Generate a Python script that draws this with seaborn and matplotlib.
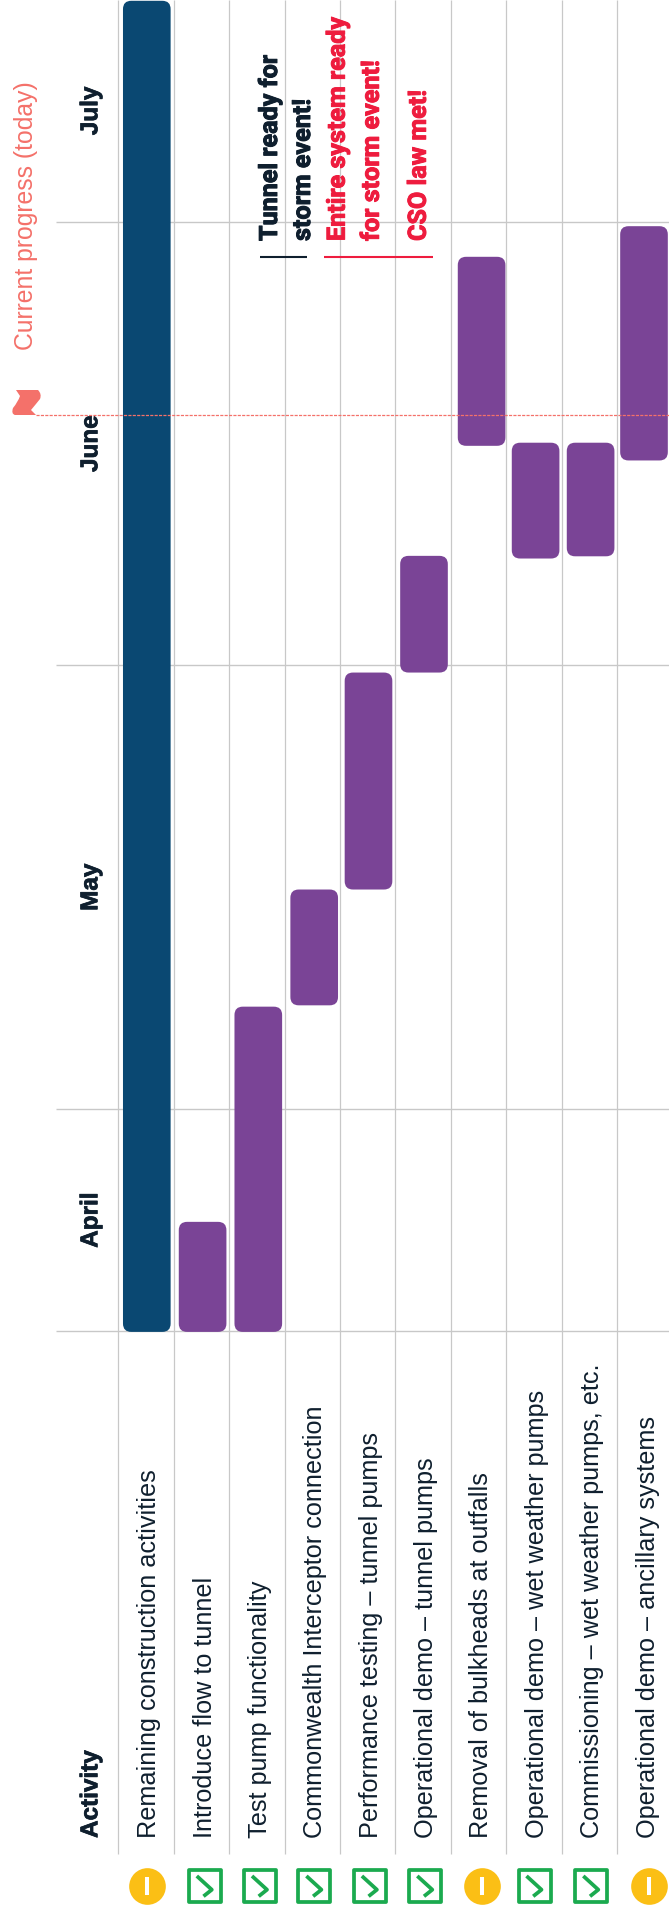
"""
Tunnel start-up schedule, drawn as a Gantt chart turned on its side.
Time runs up the page, one column per activity.
"""

import matplotlib
matplotlib.use("Agg")
import matplotlib.patheffects as pe
import matplotlib.pyplot as plt
from matplotlib.patches import FancyBboxPatch, PathPatch
from matplotlib.path import Path
from matplotlib.transforms import Affine2D
import pandas as pd
import seaborn as sns

ACTIVITIES = [
    "Remaining construction activities",
    "Introduce flow to tunnel",
    "Test pump functionality",
    "Commonwealth Interceptor connection",
    "Performance testing – tunnel pumps",
    "Operational demo – tunnel pumps",
    "Removal of bulkheads at outfalls",
    "Operational demo – wet weather pumps",
    "Commissioning – wet weather pumps, etc.",
    "Operational demo – ancillary systems",
]
# dates are in months, 4.5 = mid April
STARTS = [4.498, 4.498, 4.498, 5.234, 5.495, 5.984, 6.495, 6.241, 6.246, 6.462]
ENDS = [7.498, 4.746, 5.231, 5.495, 5.984, 6.247, 6.921, 6.502, 6.502, 6.990]
PHASES = ["construction"] + ["testing"] * 9
STATUS = ["caution", "ok", "ok", "ok", "ok", "ok", "caution", "ok", "ok", "caution"]

MONTHS = ["April", "May", "June", "July"]
MONTH_CENTERS = [4.75, 5.5, 6.5, 7.25]
MONTH_LINES = [4.5, 5.0, 6.0, 7.0]
TODAY = 6.564

NAVY = "#0A4872"
PURPLE = "#7A4496"
CORAL = "#F4716A"
RED = "#EE1C3E"
INK = "#0F1F2E"
GRID = "#C8C8C8"
YELLOW = "#FBBF15"
GREEN = "#1BAA4F"
PHASE_COLORS = {"construction": NAVY, "testing": PURPLE}

W, H = 669, 1912
ROW_W = 55.4      # px per activity column
ROW0 = 146.0      # px centre of first column
MONTH_H = 443.7   # px per month
Y_APR15 = 1331.0  # px of month value 4.5
BAR_NUDGE = [0.8, 1.2, 1.5, 2.0, 0.9, 1.0, 3.2, 1.8, 1.4, -0.6]  # columns are not quite even

sns.set_theme(style="white")
plt.rcParams["font.family"] = ["Liberation Sans", "DejaVu Sans"]

fig = plt.figure(figsize=(W / 100, H / 100), dpi=100)
ax = fig.add_axes([0, 0, 1, 1])

df = pd.DataFrame({"activity": ACTIVITIES, "start": STARTS, "end": ENDS})
df["length"] = df["end"] - df["start"]
sns.barplot(data=df, x="activity", y="length", bottom=df["start"].values, color=PURPLE,
            saturation=1, width=0.86, errorbar=None, ax=ax, zorder=3)

ax.set_xlim(-ROW0 / ROW_W, (W - ROW0) / ROW_W)
ax.set_ylim(4.5 - (H - Y_APR15) / MONTH_H, 4.5 + Y_APR15 / MONTH_H)
ax.axis("off")

# swap the square bars for rounded ones
for bar, phase, nudge in zip(list(ax.patches), PHASES, BAR_NUDGE):
    rounded = FancyBboxPatch(
        (bar.get_x() + nudge / ROW_W, bar.get_y()), bar.get_width(), bar.get_height(),
        boxstyle="round,pad=0,rounding_size=0.15",
        mutation_aspect=ROW_W / MONTH_H,
        facecolor=PHASE_COLORS[phase], edgecolor="none", zorder=3,
    )
    bar.remove()
    ax.add_patch(rounded)

# px layer for the page furniture, y counted from the top
px = Affine2D().scale(1, -1).translate(0, H)


def to_month(y_px):
    return 4.5 + (Y_APR15 - y_px) / MONTH_H


def to_row(x_px):
    return (x_px - ROW0) / ROW_W


def heavier(color, width=0.5):
    # the available bold faces are lighter than the original one
    return [pe.withStroke(linewidth=width, foreground=color)]


# grid
bounds = [i - 0.5 for i in range(len(ACTIVITIES))]
ax.vlines(bounds, to_month(1854), to_month(0), color=GRID, lw=0.9, zorder=1)
ax.hlines(MONTH_LINES, to_row(55.5), to_row(W), color=GRID, lw=1.0, zorder=1)

# today
ax.hlines(TODAY, to_row(36), to_row(W), color=CORAL, lw=0.9, ls=(0, (2.5, 1)), zorder=4)
flag = Path(
    [(16, 390), (38, 390), (42, 394), (40, 399), (36, 404), (31, 410), (36, 415),
     (15, 415), (11, 414), (13, 408), (18, 402), (20, 396), (16, 390)],
    [Path.MOVETO, Path.LINETO, Path.CURVE3, Path.CURVE3, Path.CURVE3, Path.CURVE3,
     Path.LINETO, Path.LINETO, Path.CURVE3, Path.CURVE3, Path.CURVE3, Path.CURVE3,
     Path.CLOSEPOLY],
)
ax.add_patch(PathPatch(flag, facecolor=CORAL, edgecolor="none", transform=px, zorder=4))
ax.text(32.8, 350, "Current progress (today)", transform=px, rotation=90, ha="left",
        va="baseline", fontsize=17.8, color=CORAL, rotation_mode="anchor")

# column labels, anchored on their baselines
for i, name in enumerate(ACTIVITIES):
    ax.text(to_row(156.1 + ROW_W * i), to_month(1838), name, rotation=90, rotation_mode="anchor",
            ha="left", va="baseline", fontsize=18.2, color=INK, zorder=5)
ax.text(to_row(97.3), to_month(1838), "Activity", rotation=90, rotation_mode="anchor",
        ha="left", va="baseline", fontsize=17.5, fontweight="bold", color=INK,
        path_effects=heavier(INK))
for name, pos in zip(MONTHS, MONTH_CENTERS):
    ax.text(to_row(97.3), pos, name, rotation=90, rotation_mode="anchor", ha="center",
            va="baseline", fontsize=17.5, fontweight="bold", color=INK,
            path_effects=heavier(INK))

# milestones
for text, x_px, col in [("Tunnel ready for", 277, INK), ("storm event!", 310, INK),
                        ("Entire system ready", 344.7, RED), ("for storm event!", 378.8, RED),
                        ("CSO law met!", 425.8, RED)]:
    ax.text(to_row(x_px), to_month(241), text, rotation=90, rotation_mode="anchor",
            ha="left", va="baseline", fontsize=18.1, fontweight="bold", family="Roboto",
            color=col, zorder=5, path_effects=heavier(col, 0.7))
ax.hlines(to_month(257.3), to_row(260), to_row(307), color=INK, lw=1.5, zorder=5)
ax.hlines(to_month(257.3), to_row(324), to_row(433), color=RED, lw=1.5, zorder=5)

# status icons
ICON_X = [147, 204.8, 260, 314.4, 369.9, 425.3, 481.6, 534.5, 591.3, 649.3]
icon_y = to_month(1886)
chevron = Path([(-8, 10), (7, -3.7), (-1.3, -10.3)])
for x_px, status in zip(ICON_X, STATUS):
    row = to_row(x_px)
    if status == "caution":
        ax.scatter(row, icon_y, s=697, color=YELLOW, linewidths=0, zorder=5)
        ax.scatter(row, icon_y, s=162, marker="|", color="white", linewidths=2.9, zorder=6)
    else:
        ax.scatter(row, icon_y, s=530, marker="s", facecolor="white", edgecolor=GREEN,
                   linewidths=2.7, zorder=5)
        ax.scatter(row, icon_y, s=220, marker=chevron, facecolor="none", edgecolor=GREEN,
                   linewidths=2.7, zorder=6)

fig.savefig("out.png", dpi=100)
